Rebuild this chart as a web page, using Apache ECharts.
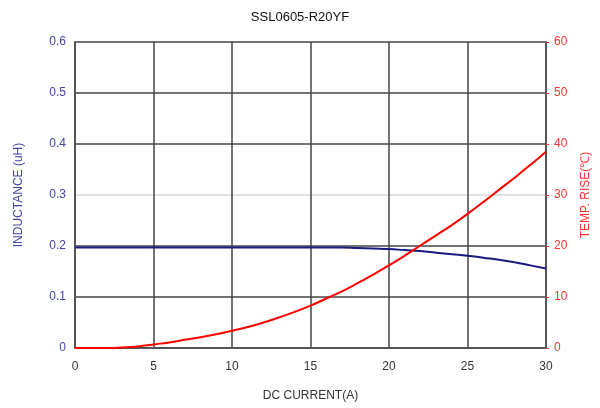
<!DOCTYPE html>
<html><head><meta charset="utf-8">
<script src="https://cdn.jsdelivr.net/npm/echarts@6/dist/echarts.min.js"></script>
<style>html,body{margin:0;padding:0;background:#fff}#c{width:600px;height:408px}</style>
</head><body><div id="c"></div>
<script>
const current = [0,1,2,3,4,5,6,7,8,9,10,11,12,13,14,15,16,17,18,19,20,21,22,23,24,25,26,27,28,29,30];
const inductance = [0.197,0.197,0.197,0.197,0.197,0.197,0.197,0.197,0.197,0.197,0.197,0.197,0.197,0.197,0.197,0.197,0.197,0.197,0.196,0.195,0.194,0.192,0.190,0.187,0.184,0.181,0.177,0.173,0.168,0.162,0.156];
const tempRise = [0,0,0,0.1,0.3,0.7,1.1,1.6,2.1,2.7,3.4,4.1,5.0,6.0,7.1,8.3,9.7,11.1,12.7,14.4,16.2,18.1,20.1,22.1,24.1,26.3,28.6,31.0,33.4,35.9,38.5];
const xTicks = [0,5,10,15,20,25,30];
const leftTicks = [0,0.1,0.2,0.3,0.4,0.5,0.6];
const rightTicks = [0,10,20,30,40,50,60];

const chart = echarts.init(document.getElementById('c'), null, {renderer:'canvas'});
const font = 'Liberation Sans, Arial, sans-serif';
chart.setOption({
  animation:false,
  title:{text:'SSL0605-R20YF', left:'center', top:6, textStyle:{fontFamily:font,fontSize:13,fontWeight:'normal',color:'#111'}},
  grid:{left:75,right:53,top:42,bottom:60},
  xAxis:{type:'value',min:0,max:30,interval:5,
    name:'DC CURRENT(A)',nameLocation:'middle',nameGap:42,
    nameTextStyle:{fontFamily:font,fontSize:12,color:'#333'},
    axisLine:{lineStyle:{color:'#555',width:2}},axisTick:{show:false},
    axisLabel:{fontFamily:font,fontSize:12,color:'#333',margin:13},
    splitLine:{show:true,lineStyle:{color:'#444',width:1.5}}},
  yAxis:[
    {type:'value',min:0,max:0.6,interval:0.1,position:'left',
     name:'INDUCTANCE (uH)',nameLocation:'middle',nameGap:50,
     nameTextStyle:{fontFamily:font,fontSize:12,color:'#4444a4'},
     axisLine:{show:true,lineStyle:{color:'#555',width:2}},axisTick:{show:false},
     axisLabel:{fontFamily:font,fontSize:12,color:'#4444a4',margin:9,formatter:v=>String(+v.toFixed(1))},
     splitLine:{show:true,lineStyle:{color:['#444','#444','#444','#d8d8d8','#444','#444','#444'],width:1.5}}},
    {type:'value',min:0,max:60,interval:10,position:'right',
     name:'TEMP. RISE(℃)',nameLocation:'middle',nameGap:34,nameRotate:90,
     nameTextStyle:{fontFamily:font,fontSize:12,color:'#ff3333'},
     axisLine:{show:true,lineStyle:{color:'#555',width:2}},
     axisTick:{show:true,length:3,lineStyle:{color:'#ff3333'}},
     axisLabel:{fontFamily:font,fontSize:12,color:'#ff3333',margin:8},
     splitLine:{show:false}}
  ],
  series:[
    {type:'line',yAxisIndex:0,data:current.map((c,i)=>[c,inductance[i]]),smooth:true,showSymbol:false,
     lineStyle:{color:'#1a1a80',width:2}},
    {type:'line',yAxisIndex:1,data:current.map((c,i)=>[c,tempRise[i]]),smooth:true,showSymbol:false,
     lineStyle:{color:'#ff0000',width:2}}
  ]
});
</script></body></html>
